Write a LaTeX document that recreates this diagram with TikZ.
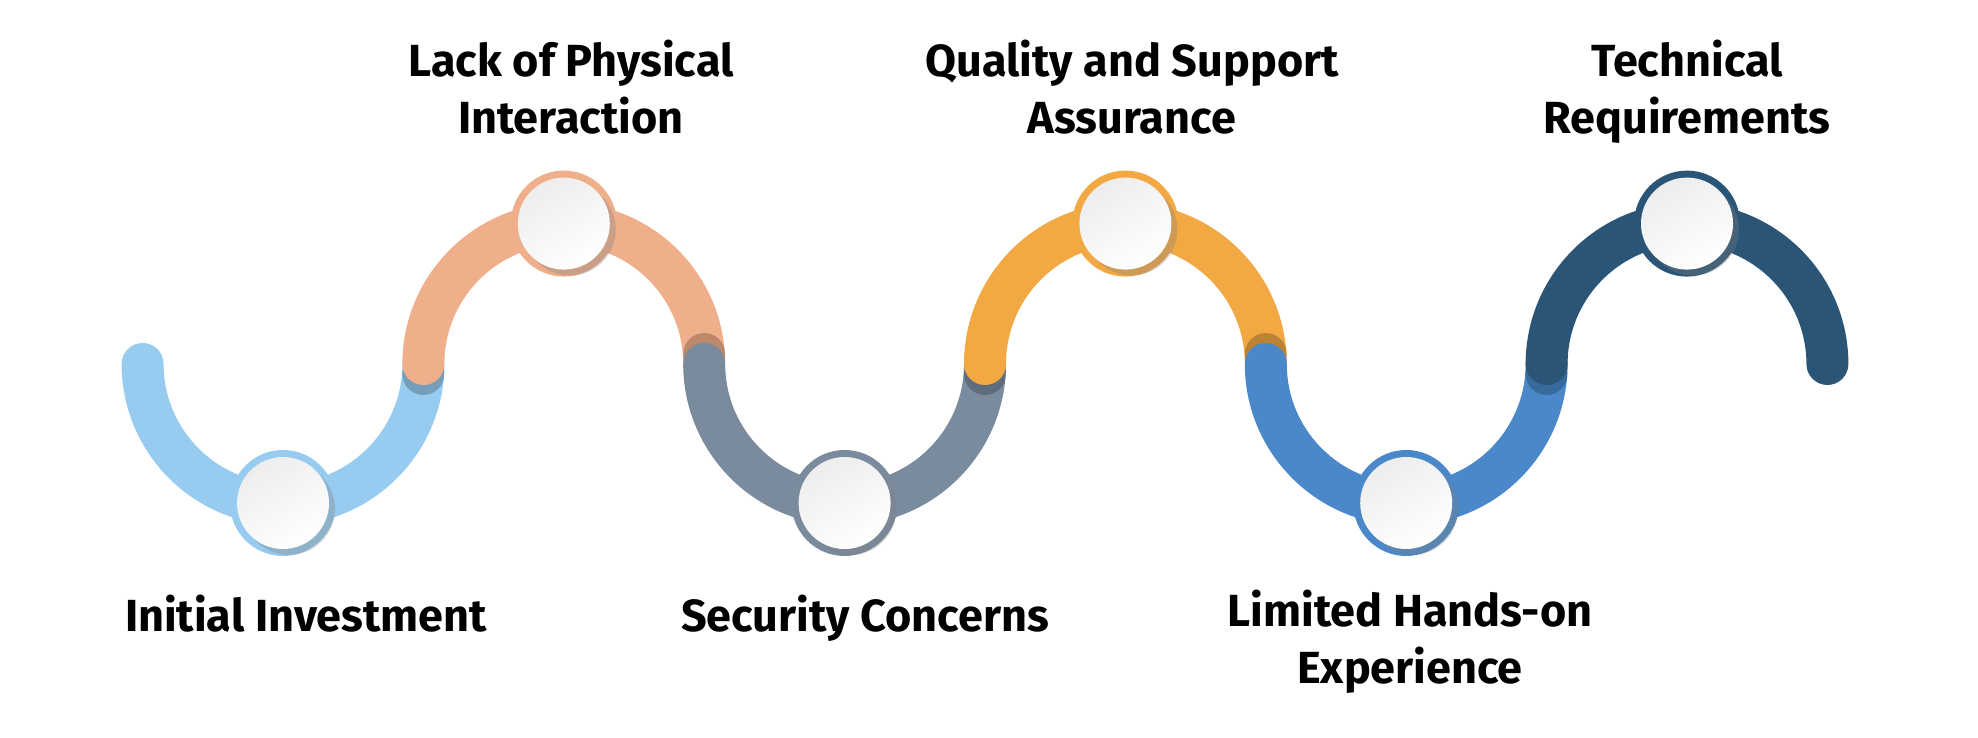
\documentclass[tikz,border=0pt]{standalone}
\usepackage{fontspec}
\setmainfont{Fira Sans}
\usepackage{tikz}
\usetikzlibrary{shadows}
\definecolor{stepsky}{HTML}{97CBEF}
\definecolor{steppeach}{HTML}{F0AF8B}
\definecolor{stepslate}{HTML}{7A8B9E}
\definecolor{steporange}{HTML}{F2A943}
\definecolor{stepazure}{HTML}{4A88C9}
\definecolor{stepnavy}{HTML}{2A5577}

\begin{document}
\begin{tikzpicture}[
  x=1pt, y=1pt,
  wave/.style={line width=42pt, line cap=round, color=#1},
  seam/.style={fill=black, opacity=0.22},
  ring/.style={circle, fill=#1, minimum size=106pt, inner sep=0pt},
  disk/.style={circle, minimum size=92pt, inner sep=0pt, top color=gray!14, bottom color=white, shading angle=30, drop shadow={shadow xshift=6pt, shadow yshift=-6pt, opacity=0.32}},
  steptext/.style={font=\bfseries\fontsize{45}{57}\selectfont, align=center, anchor=base, inner sep=0pt},
]
\useasboundingbox (0,0) rectangle (1978,738);

% --- wave joints ---
\coordinate (j0) at (142.6,374);
\coordinate (j1) at (423.4,374);
\coordinate (j2) at (704.2,374);
\coordinate (j3) at (985.0,374);
\coordinate (j4) at (1265.8,374);
\coordinate (j5) at (1546.6,374);

% --- wave (each piece laps over the last) ---
\draw[wave=stepsky] (j0) arc[start angle=180, end angle=360, radius=140.4];
\fill[seam] ([yshift=-10pt]j1) circle (21);
\draw[wave=steppeach] (j1) arc[start angle=180, end angle=0, radius=140.4];
\fill[seam] ([yshift=10pt]j2) circle (21);
\draw[wave=stepslate] (j2) arc[start angle=180, end angle=360, radius=140.4];
\fill[seam] ([yshift=-10pt]j3) circle (21);
\draw[wave=steporange] (j3) arc[start angle=180, end angle=0, radius=140.4];
\fill[seam] ([yshift=10pt]j4) circle (21);
\draw[wave=stepazure] (j4) arc[start angle=180, end angle=360, radius=140.4];
\fill[seam] ([yshift=-10pt]j5) circle (21);
\draw[wave=stepnavy] (j5) arc[start angle=180, end angle=0, radius=140.4];

% --- step markers ---
\node[ring=stepsky] (m1) at (283.0,235) {};
\node[disk] (d1) at (m1) {};
\node[ring=steppeach] (m2) at (563.8,514.4) {};
\node[disk] (d2) at (m2) {};
\node[ring=stepslate] (m3) at (844.6,235) {};
\node[disk] (d3) at (m3) {};
\node[ring=steporange] (m4) at (1125.4,514.4) {};
\node[disk] (d4) at (m4) {};
\node[ring=stepazure] (m5) at (1406.2,235) {};
\node[disk] (d5) at (m5) {};
\node[ring=stepnavy] (m6) at (1687.0,514.4) {};
\node[disk] (d6) at (m6) {};

% --- labels (base = last line) ---
\node[steptext] (t1) at (306,106) {Initial Investment};
\node[steptext] (t2) at (571,604) {Lack of Physical\\Interaction};
\node[steptext] (t3) at (865,106) {Security Concerns};
\node[steptext] (t4) at (1132,604) {Quality and Support\\Assurance};
\node[steptext] (t5) at (1410,54) {Limited Hands-on\\Experience};
\node[steptext] (t6) at (1687,604) {Technical\\Requirements};
\end{tikzpicture}
\end{document}
